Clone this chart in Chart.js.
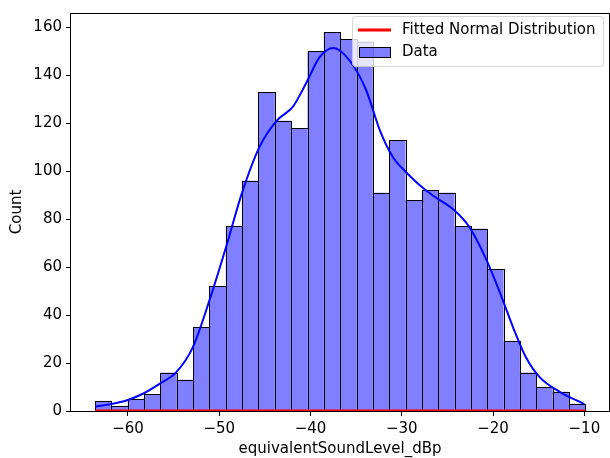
<!DOCTYPE html>
<html>
<head>
<meta charset="utf-8">
<script src="https://cdn.jsdelivr.net/npm/chart.js@4"></script>
<style>
  body { margin: 0; background: #fff; }
  #wrap { width: 610px; height: 458px; }
</style>
</head>
<body>
<div id="wrap"><canvas id="hist" width="610" height="458"></canvas></div>
<script>
// histogram bins (centres of the 30 bins) and counts
const binCenters = [-62.705, -60.915, -59.125, -57.335, -55.545, -53.755, -51.965, -50.175, -48.385, -46.595,
    -44.805, -43.015, -41.225, -39.435, -37.645, -35.855, -34.065, -32.275, -30.485, -28.695,
    -26.905, -25.115, -23.325, -21.535, -19.745, -17.955, -16.165, -14.375, -12.585, -10.795]
const binCounts = [4, 2, 5, 7, 16, 13, 35, 52, 77, 96,
    133, 121, 118, 150, 158, 155, 154, 91, 113, 88,
    92, 91, 77, 76, 59, 29, 16, 10, 8, 3]

// kde curve
const kdeX = [-63.6, -61.8, -60.1, -58.3, -56.5, -54.7, -52.9, -51.0, -49.2, -47.5, -45.6, -43.7, -41.9, -40.5,
    -39.0, -37.5, -35.7, -33.9, -32.4, -31.0, -29.5, -28.0, -26.6, -24.4, -22.6, -20.8, -19.3, -17.8,
    -16.4, -14.9, -12.7, -10.0]
const kdeY = [1.8, 2.9, 4.5, 7.3, 11.4, 16.2, 26.5, 47, 69, 91, 110, 121, 127, 136.5,
    147.5, 151.3, 146, 133.7, 117, 106, 99.4, 94, 89.8, 84.2, 76.7, 63.6, 49.9, 34.8,
    22.4, 14.1, 8, 2.9]

// fitted normal pdf (density scale, so it sits on the x axis)
const normX = [-63.6, -50, -37, -25, -9.9]
const normY = [0, 0, 0, 0, 0]

const xTicks = [-60, -50, -40, -30, -20, -10]
const yTicks = [0, 20, 40, 60, 80, 100, 120, 140, 160]

Chart.defaults.font.family = 'DejaVu Sans'
Chart.defaults.font.size = 15
Chart.defaults.color = '#000'

const minus = (v) => String(v).replace('-', '\u2212')
const BAR_INDEX = 2

// crisp bar edges (snapped like matplotlib), spines and legend
const framePlugin = {
    id: 'frame',
    afterDatasetDraw(chart, args) {
        if (args.index !== BAR_INDEX) return
        const ctx = chart.ctx
        ctx.save()
        ctx.strokeStyle = '#000'
        ctx.lineWidth = 1
        args.meta.data.forEach((bar) => {
            let l = Math.round(bar.x - bar.width / 2)
            let r = Math.round(bar.x + bar.width / 2)
            let t = Math.round(bar.y)
            let b = Math.round(bar.base)
            ctx.strokeRect(l + 0.5, t + 0.5, r - l, b - t)
        })
        ctx.restore()
    },
    afterDatasetsDraw(chart) {
        const { ctx, chartArea: a } = chart
        ctx.save()
        ctx.strokeStyle = '#000'
        ctx.lineWidth = 1
        ctx.strokeRect(Math.round(a.left) - 0.5, Math.round(a.top) + 0.5,
            Math.round(a.right - a.left) + 1, Math.round(a.bottom - a.top))
        ctx.restore()
    },
    afterDraw(chart) {
        const ctx = chart.ctx
        ctx.save()
        ctx.beginPath()
        ctx.roundRect(352.5, 16.5, 251, 50, 3)
        ctx.fillStyle = 'rgba(255,255,255,0.8)'
        ctx.fill()
        ctx.strokeStyle = 'rgba(204,204,204,0.8)'
        ctx.lineWidth = 1
        ctx.stroke()

        ctx.strokeStyle = 'red'
        ctx.lineWidth = 2.8
        ctx.beginPath()
        ctx.moveTo(358, 30)
        ctx.lineTo(391, 30)
        ctx.stroke()

        ctx.fillStyle = 'rgba(0,0,255,0.5)'
        ctx.fillRect(359.5, 47.5, 31, 10)
        ctx.strokeStyle = '#000'
        ctx.lineWidth = 1
        ctx.strokeRect(359.5, 47.5, 31, 10)

        ctx.fillStyle = '#000'
        ctx.font = '15px DejaVu Sans'
        ctx.textBaseline = 'middle'
        ctx.textAlign = 'left'
        ctx.fillText('Fitted Normal Distribution', 402, 30)
        ctx.fillText('Data', 402, 52)
        ctx.restore()
    }
}

new Chart(document.getElementById('hist'), {
    type: 'bar',
    data: {
        datasets: [{
            type: 'line',
            label: 'Fitted Normal Distribution',
            data: normX.map((x, i) => ({ x: x, y: normY[i] })),
            borderColor: 'red',
            borderWidth: 2.8,
            pointRadius: 0,
            fill: false
        }, {
            type: 'line',
            label: 'kde',
            data: kdeX.map((x, i) => ({ x: x, y: kdeY[i] })),
            borderColor: 'blue',
            borderWidth: 2,
            pointRadius: 0,
            cubicInterpolationMode: 'monotone',
            fill: false
        }, {
            type: 'bar',
            label: 'Data',
            data: binCenters.map((x, i) => ({ x: x, y: binCounts[i] })),
            backgroundColor: 'rgba(0,0,255,0.5)',
            borderWidth: 0,
            barPercentage: 1,
            categoryPercentage: 1,
            inflateAmount: 0
        }]
    },
    options: {
        responsive: false,
        animation: false,
        layout: { padding: { top: 9, right: 1, left: 0, bottom: 0 } },
        plugins: { legend: { display: false }, tooltip: { enabled: false } },
        scales: {
            x: {
                type: 'linear',
                offset: false,
                min: -66.24,
                max: -7.3,
                afterBuildTicks: (s) => { s.ticks = xTicks.map(v => ({ value: v })) },
                afterFit: (s) => { s.height = 47 },
                ticks: { padding: 4, maxRotation: 0, callback: (v) => minus(v) },
                grid: { display: true, offset: false, drawOnChartArea: false, drawTicks: true, tickLength: 5, color: '#000' },
                border: { display: false },
                title: { display: true, text: 'equivalentSoundLevel_dBp', padding: { top: 0, bottom: 0 } }
            },
            y: {
                type: 'linear',
                min: 0,
                max: 165.9,
                afterBuildTicks: (s) => { s.ticks = yTicks.map(v => ({ value: v })) },
                afterFit: (s) => { s.width = 71 },
                ticks: { padding: 4, callback: (v) => minus(v) },
                grid: { display: true, drawOnChartArea: false, drawTicks: true, tickLength: 5, color: '#000' },
                border: { display: false },
                title: { display: true, text: 'Count', padding: { top: 8, bottom: 0 } }
            }
        }
    },
    plugins: [framePlugin]
})
</script>
</body>
</html>
